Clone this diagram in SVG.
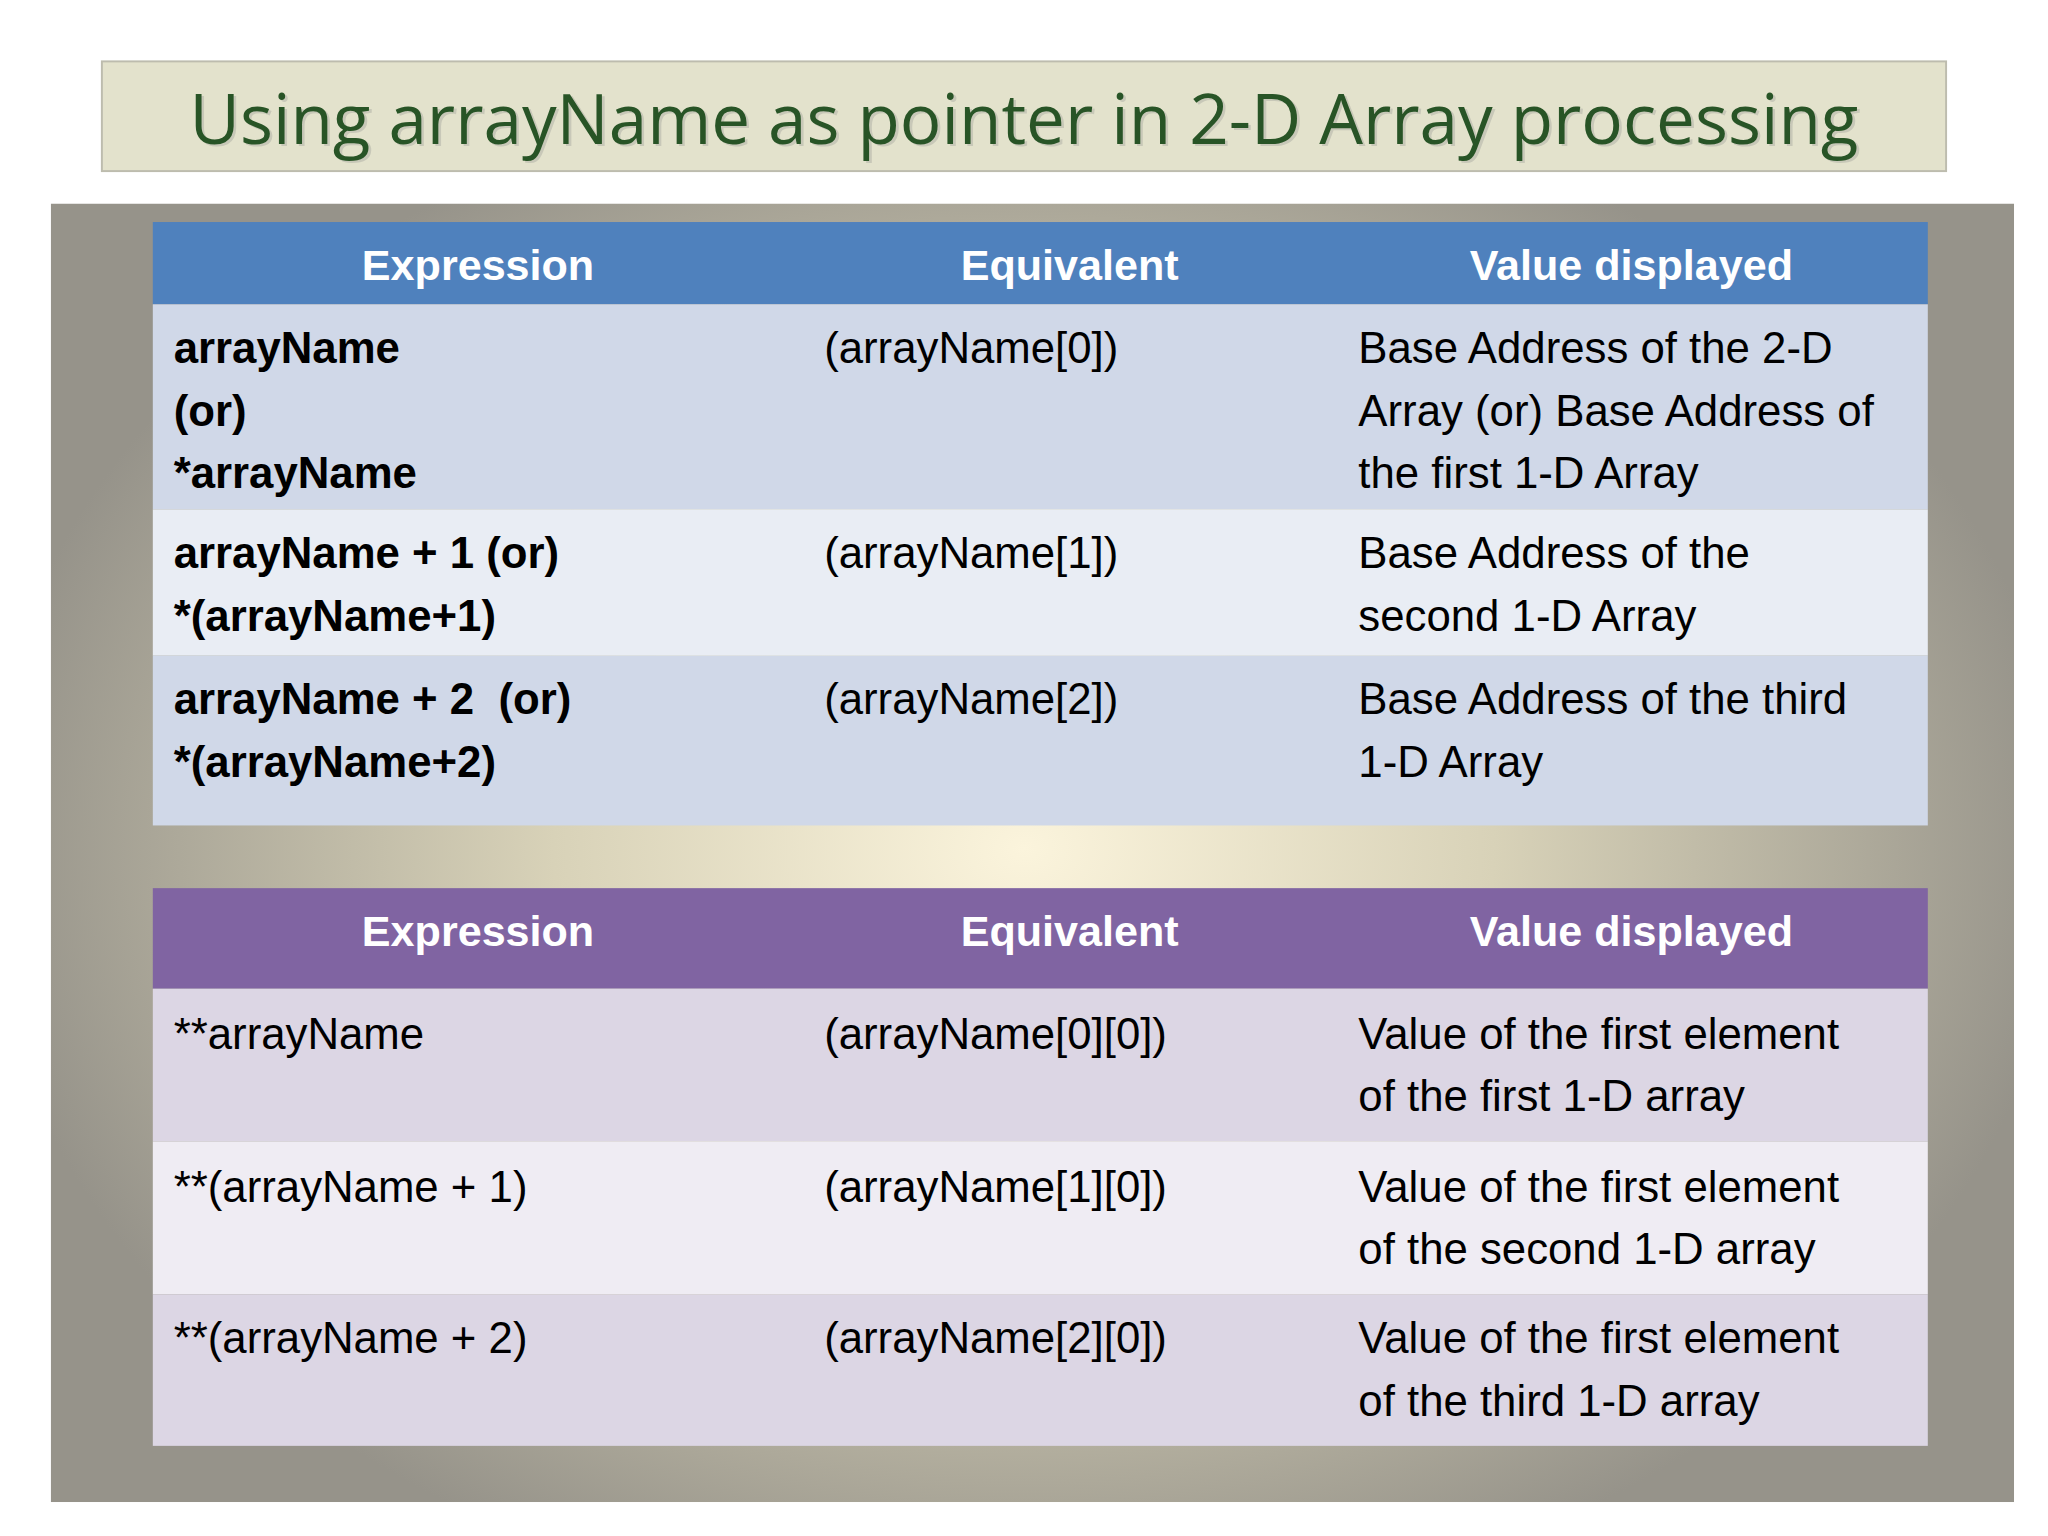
<svg xmlns="http://www.w3.org/2000/svg" width="2048" height="1536" viewBox="0 0 2048 1536">
<style>
text{font-family:"Liberation Sans",Arial,sans-serif;font-size:33.5px;fill:#000}
.h{fill:#fff;font-weight:bold;text-anchor:middle;font-size:33px}
.b{font-weight:bold}
.t{font-family:"Open Sans","Liberation Sans",sans-serif;font-size:53px;text-anchor:middle}
</style>
<defs>
<radialGradient id="bg" cx="784" cy="650" r="800" gradientUnits="userSpaceOnUse" gradientTransform="translate(784 650) scale(1 0.75) translate(-784 -650)">
<stop offset="0" stop-color="#fbf4dc"/><stop offset="0.45" stop-color="#d8d2b8"/><stop offset="1" stop-color="#96938a"/>
</radialGradient>
</defs>
<rect width="2048" height="1536" fill="#fff"/>
<g transform="scale(1.3061)">
<g id="title">
<rect x="78" y="47" width="1412" height="84" fill="#e3e2cc" stroke="#bdbcae" stroke-width="1.5"/>
<text class="t" x="786" y="112" style="fill:#c8c8b8">Using arrayName as pointer in 2-D Array processing</text>
<text class="t" x="784" y="110" style="fill:#285426">Using arrayName as pointer in 2-D Array processing</text>
</g>
<rect x="39" y="156" width="1503" height="994" fill="url(#bg)"/>
<g id="table1">
<rect x="117" y="170" width="1359" height="63" fill="#4f81bd"/>
<rect x="117" y="233" width="1359" height="157" fill="#d0d8e8"/>
<rect x="117" y="390" width="1359" height="112" fill="#e9edf4"/>
<rect x="117" y="502" width="1359" height="130" fill="#d0d8e8"/>
<text class="h" x="366" y="214">Expression</text>
<text class="h" x="819" y="214">Equivalent</text>
<text class="h" x="1249" y="214">Value displayed</text>
<text class="b" x="133" y="278">arrayName</text>
<text class="b" x="133" y="326">(or)</text>
<text class="b" x="133" y="374">*arrayName</text>
<text x="631" y="278">(arrayName[0])</text>
<text x="1040" y="278">Base Address of the 2-D</text>
<text x="1040" y="326">Array (or) Base Address of</text>
<text x="1040" y="374">the first 1-D Array</text>
<text class="b" x="133" y="435">arrayName + 1 (or)</text>
<text class="b" x="133" y="483">*(arrayName+1)</text>
<text x="631" y="435">(arrayName[1])</text>
<text x="1040" y="435">Base Address of the</text>
<text x="1040" y="483">second 1-D Array</text>
<text class="b" x="133" y="547" xml:space="preserve">arrayName + 2  (or)</text>
<text class="b" x="133" y="595">*(arrayName+2)</text>
<text x="631" y="547">(arrayName[2])</text>
<text x="1040" y="547">Base Address of the third</text>
<text x="1040" y="595">1-D Array</text>
</g>
<g id="table2">
<rect x="117" y="680" width="1359" height="77" fill="#8064a2"/>
<rect x="117" y="757" width="1359" height="117" fill="#dcd6e4"/>
<rect x="117" y="874" width="1359" height="117" fill="#efecf3"/>
<rect x="117" y="991" width="1359" height="116" fill="#dcd6e4"/>
<text class="h" x="366" y="724">Expression</text>
<text class="h" x="819" y="724">Equivalent</text>
<text class="h" x="1249" y="724">Value displayed</text>
<text x="133" y="803">**arrayName</text>
<text x="631" y="803">(arrayName[0][0])</text>
<text x="1040" y="803">Value of the first element</text>
<text x="1040" y="851">of the first 1-D array</text>
<text x="133" y="920">**(arrayName + 1)</text>
<text x="631" y="920">(arrayName[1][0])</text>
<text x="1040" y="920">Value of the first element</text>
<text x="1040" y="968">of the second 1-D array</text>
<text x="133" y="1036">**(arrayName + 2)</text>
<text x="631" y="1036">(arrayName[2][0])</text>
<text x="1040" y="1036">Value of the first element</text>
<text x="1040" y="1084">of the third 1-D array</text>
</g>
</g>
</svg>
